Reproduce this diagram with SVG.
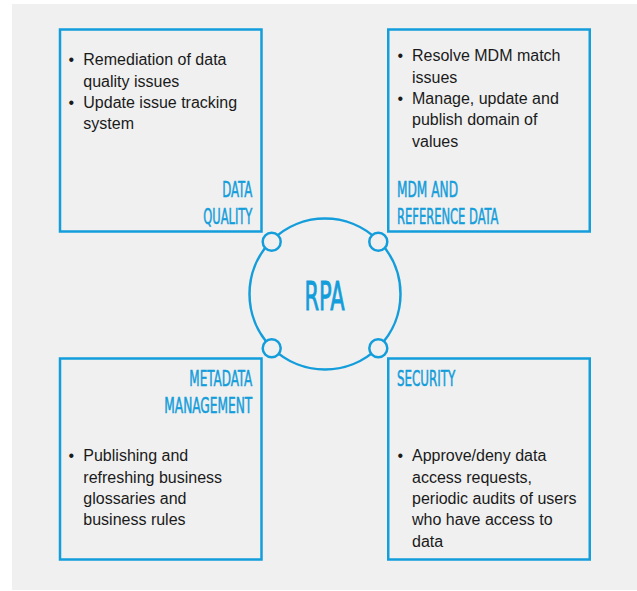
<svg xmlns="http://www.w3.org/2000/svg" width="637" height="591" viewBox="0 0 637 591">
<style>
.box{fill:none;stroke:#139ddb;stroke-width:2.5}
.hd{font-family:"Liberation Sans Narrow","DejaVu Sans Condensed","Liberation Sans",sans-serif;font-size:22px;fill:#139ddb;stroke:#139ddb;stroke-width:0.55}
.body{font-family:"Liberation Sans",Arial,sans-serif;font-size:16px;fill:#1a1a1a}
.ring{fill:#f0f0f0;stroke:#139ddb;stroke-width:2.5}
</style>
<rect x="12" y="4" width="625" height="586" fill="#f0f0f0"/>

<g id="data-quality">
<rect class="box" x="60" y="29.5" width="201.5" height="202"/>
<text class="body"><tspan x="68.5" y="65.3">•</tspan><tspan x="83.3" y="65.3">Remediation of data</tspan><tspan x="83.3" y="86.6">quality issues</tspan><tspan x="68.5" y="108">•</tspan><tspan x="83.3" y="108">Update issue tracking</tspan><tspan x="83.3" y="129.3">system</tspan></text>
<text class="hd" x="252.3" y="197" text-anchor="end" textLength="30" lengthAdjust="spacingAndGlyphs">DATA</text>
<text class="hd" x="252.3" y="224" text-anchor="end" textLength="49" lengthAdjust="spacingAndGlyphs">QUALITY</text>
</g>

<g id="mdm-reference-data">
<rect class="box" x="388.25" y="29.5" width="201.5" height="202"/>
<text class="body"><tspan x="397.5" y="61.3">•</tspan><tspan x="412" y="61.3">Resolve MDM match</tspan><tspan x="412" y="82.6">issues</tspan><tspan x="397.5" y="104">•</tspan><tspan x="412" y="104">Manage, update and</tspan><tspan x="412" y="125.3">publish domain of</tspan><tspan x="412" y="146.6">values</tspan></text>
<text class="hd" x="397" y="197" textLength="61" lengthAdjust="spacingAndGlyphs">MDM AND</text>
<text class="hd" x="397" y="224" textLength="101.5" lengthAdjust="spacingAndGlyphs">REFERENCE DATA</text>
</g>

<g id="metadata-management">
<rect class="box" x="60" y="358.5" width="201.5" height="201"/>
<text class="hd" x="252.3" y="386" text-anchor="end" textLength="63" lengthAdjust="spacingAndGlyphs">METADATA</text>
<text class="hd" x="252.3" y="412.7" text-anchor="end" textLength="88" lengthAdjust="spacingAndGlyphs">MANAGEMENT</text>
<text class="body"><tspan x="68.5" y="461.3">•</tspan><tspan x="83.3" y="461.3">Publishing and</tspan><tspan x="83.3" y="482.6">refreshing business</tspan><tspan x="83.3" y="504">glossaries and</tspan><tspan x="83.3" y="525.3">business rules</tspan></text>
</g>

<g id="security">
<rect class="box" x="388.25" y="358.5" width="201.5" height="201"/>
<text class="hd" x="397" y="386" textLength="58.3" lengthAdjust="spacingAndGlyphs">SECURITY</text>
<text class="body"><tspan x="397.5" y="461.3">•</tspan><tspan x="412" y="461.3">Approve/deny data</tspan><tspan x="412" y="482.6">access requests,</tspan><tspan x="412" y="504">periodic audits of users</tspan><tspan x="412" y="525.3">who have access to</tspan><tspan x="412" y="546.6">data</tspan></text>
</g>

<g id="rpa">
<circle cx="325" cy="294" r="75.5" fill="none" stroke="#139ddb" stroke-width="2.5"/>
<text x="324.5" y="310" text-anchor="middle" font-family="Liberation Sans Narrow,DejaVu Sans Condensed,Liberation Sans,sans-serif" font-size="39" fill="#139ddb" stroke="#139ddb" stroke-width="0.9" textLength="40" lengthAdjust="spacingAndGlyphs">RPA</text>
</g>

<g id="connectors">
<circle class="ring" cx="271.7" cy="241.7" r="9"/>
<circle class="ring" cx="378.3" cy="241.7" r="9"/>
<circle class="ring" cx="271.7" cy="348.3" r="9"/>
<circle class="ring" cx="378.3" cy="348.3" r="9"/>
</g>
</svg>
